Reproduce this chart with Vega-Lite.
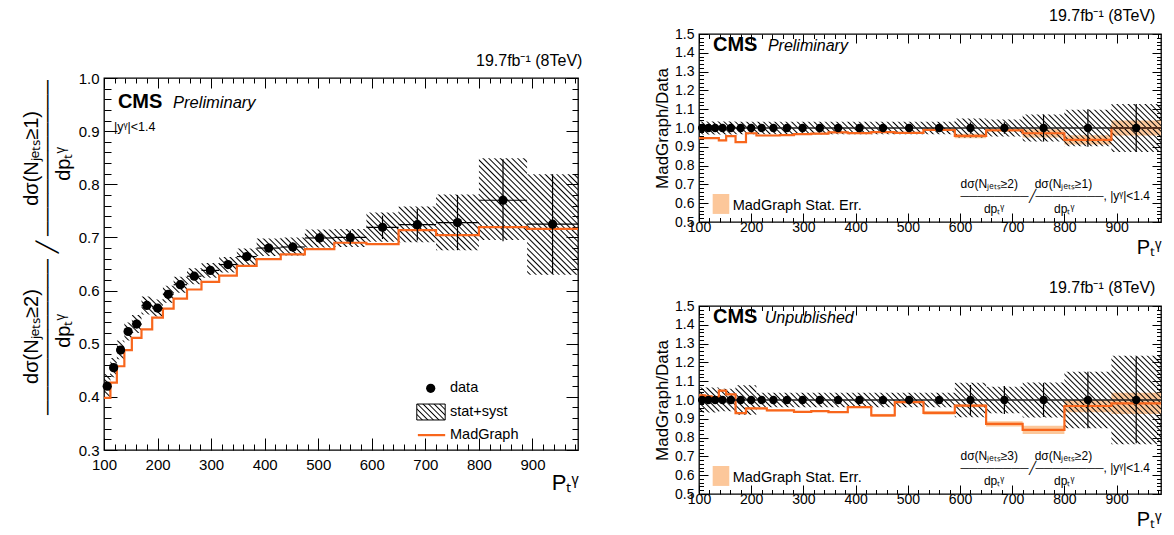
{
"$schema": "https://vega.github.io/schema/vega-lite/v6.json",
"padding": {"left": 20, "top": 7, "right": 2, "bottom": 0},
"background": "white",
"config": {
  "view": {"stroke": "black", "strokeWidth": 1.3},
  "font": "Liberation Sans",
  "text": {"font": "Liberation Sans", "color": "black"},
  "axis": {"domain": false, "grid": false, "ticks": true, "tickColor": "black", "tickWidth": 1, "labelColor": "black", "labelFont": "Liberation Sans", "labelOverlap": false, "labelFlush": false, "titleColor": "black", "titleFont": "Liberation Sans", "titleFontWeight": "normal", "zindex": 1},
  "title": {"font": "Liberation Sans", "fontWeight": "normal", "color": "black", "subtitleColor": "black", "subtitleFont": "Liberation Sans"},
  "area": {"fill": {"gradient": "linear", "x1": 0, "y1": 1, "x2": 1.196, "y2": 0.376, "stops": [
{"offset":0,"color":"#000"},{"offset":0.002,"color":"#0000"},{"offset":0.006,"color":"#0000"},
{"offset":0.008,"color":"#000"},{"offset":0.01,"color":"#0000"},{"offset":0.014,"color":"#0000"},
{"offset":0.016,"color":"#000"},{"offset":0.018,"color":"#0000"},{"offset":0.022,"color":"#0000"},
{"offset":0.024,"color":"#000"},{"offset":0.026,"color":"#0000"},{"offset":0.03,"color":"#0000"},
{"offset":0.032,"color":"#000"},{"offset":0.034,"color":"#0000"},{"offset":0.038,"color":"#0000"},
{"offset":0.04,"color":"#000"},{"offset":0.042,"color":"#0000"},{"offset":0.046,"color":"#0000"},
{"offset":0.048,"color":"#000"},{"offset":0.05,"color":"#0000"},{"offset":0.054,"color":"#0000"},
{"offset":0.056,"color":"#000"},{"offset":0.058,"color":"#0000"},{"offset":0.062,"color":"#0000"},
{"offset":0.064,"color":"#000"},{"offset":0.066,"color":"#0000"},{"offset":0.07,"color":"#0000"},
{"offset":0.072,"color":"#000"},{"offset":0.074,"color":"#0000"},{"offset":0.078,"color":"#0000"},
{"offset":0.08,"color":"#000"},{"offset":0.082,"color":"#0000"},{"offset":0.086,"color":"#0000"},
{"offset":0.088,"color":"#000"},{"offset":0.09,"color":"#0000"},{"offset":0.094,"color":"#0000"},
{"offset":0.096,"color":"#000"},{"offset":0.098,"color":"#0000"},{"offset":0.102,"color":"#0000"},
{"offset":0.104,"color":"#000"},{"offset":0.106,"color":"#0000"},{"offset":0.11,"color":"#0000"},
{"offset":0.112,"color":"#000"},{"offset":0.114,"color":"#0000"},{"offset":0.118,"color":"#0000"},
{"offset":0.12,"color":"#000"},{"offset":0.122,"color":"#0000"},{"offset":0.126,"color":"#0000"},
{"offset":0.128,"color":"#000"},{"offset":0.13,"color":"#0000"},{"offset":0.134,"color":"#0000"},
{"offset":0.136,"color":"#000"},{"offset":0.138,"color":"#0000"},{"offset":0.142,"color":"#0000"},
{"offset":0.144,"color":"#000"},{"offset":0.146,"color":"#0000"},{"offset":0.15,"color":"#0000"},
{"offset":0.152,"color":"#000"},{"offset":0.154,"color":"#0000"},{"offset":0.158,"color":"#0000"},
{"offset":0.16,"color":"#000"},{"offset":0.162,"color":"#0000"},{"offset":0.166,"color":"#0000"},
{"offset":0.168,"color":"#000"},{"offset":0.17,"color":"#0000"},{"offset":0.174,"color":"#0000"},
{"offset":0.176,"color":"#000"},{"offset":0.178,"color":"#0000"},{"offset":0.182,"color":"#0000"},
{"offset":0.184,"color":"#000"},{"offset":0.186,"color":"#0000"},{"offset":0.19,"color":"#0000"},
{"offset":0.192,"color":"#000"},{"offset":0.194,"color":"#0000"},{"offset":0.198,"color":"#0000"},
{"offset":0.2,"color":"#000"},{"offset":0.202,"color":"#0000"},{"offset":0.206,"color":"#0000"},
{"offset":0.208,"color":"#000"},{"offset":0.21,"color":"#0000"},{"offset":0.214,"color":"#0000"},
{"offset":0.216,"color":"#000"},{"offset":0.218,"color":"#0000"},{"offset":0.222,"color":"#0000"},
{"offset":0.224,"color":"#000"},{"offset":0.226,"color":"#0000"},{"offset":0.23,"color":"#0000"},
{"offset":0.232,"color":"#000"},{"offset":0.234,"color":"#0000"},{"offset":0.238,"color":"#0000"},
{"offset":0.24,"color":"#000"},{"offset":0.242,"color":"#0000"},{"offset":0.246,"color":"#0000"},
{"offset":0.248,"color":"#000"},{"offset":0.25,"color":"#0000"},{"offset":0.254,"color":"#0000"},
{"offset":0.256,"color":"#000"},{"offset":0.258,"color":"#0000"},{"offset":0.262,"color":"#0000"},
{"offset":0.264,"color":"#000"},{"offset":0.266,"color":"#0000"},{"offset":0.27,"color":"#0000"},
{"offset":0.272,"color":"#000"},{"offset":0.274,"color":"#0000"},{"offset":0.278,"color":"#0000"},
{"offset":0.28,"color":"#000"},{"offset":0.282,"color":"#0000"},{"offset":0.286,"color":"#0000"},
{"offset":0.288,"color":"#000"},{"offset":0.29,"color":"#0000"},{"offset":0.294,"color":"#0000"},
{"offset":0.296,"color":"#000"},{"offset":0.298,"color":"#0000"},{"offset":0.302,"color":"#0000"},
{"offset":0.304,"color":"#000"},{"offset":0.306,"color":"#0000"},{"offset":0.31,"color":"#0000"},
{"offset":0.312,"color":"#000"},{"offset":0.314,"color":"#0000"},{"offset":0.318,"color":"#0000"},
{"offset":0.32,"color":"#000"},{"offset":0.322,"color":"#0000"},{"offset":0.326,"color":"#0000"},
{"offset":0.328,"color":"#000"},{"offset":0.33,"color":"#0000"},{"offset":0.334,"color":"#0000"},
{"offset":0.336,"color":"#000"},{"offset":0.338,"color":"#0000"},{"offset":0.342,"color":"#0000"},
{"offset":0.344,"color":"#000"},{"offset":0.346,"color":"#0000"},{"offset":0.35,"color":"#0000"},
{"offset":0.352,"color":"#000"},{"offset":0.354,"color":"#0000"},{"offset":0.358,"color":"#0000"},
{"offset":0.36,"color":"#000"},{"offset":0.362,"color":"#0000"},{"offset":0.366,"color":"#0000"},
{"offset":0.368,"color":"#000"},{"offset":0.37,"color":"#0000"},{"offset":0.374,"color":"#0000"},
{"offset":0.376,"color":"#000"},{"offset":0.378,"color":"#0000"},{"offset":0.382,"color":"#0000"},
{"offset":0.384,"color":"#000"},{"offset":0.386,"color":"#0000"},{"offset":0.39,"color":"#0000"},
{"offset":0.392,"color":"#000"},{"offset":0.394,"color":"#0000"},{"offset":0.398,"color":"#0000"},
{"offset":0.4,"color":"#000"},{"offset":0.402,"color":"#0000"},{"offset":0.406,"color":"#0000"},
{"offset":0.408,"color":"#000"},{"offset":0.41,"color":"#0000"},{"offset":0.414,"color":"#0000"},
{"offset":0.416,"color":"#000"},{"offset":0.418,"color":"#0000"},{"offset":0.422,"color":"#0000"},
{"offset":0.424,"color":"#000"},{"offset":0.426,"color":"#0000"},{"offset":0.43,"color":"#0000"},
{"offset":0.432,"color":"#000"},{"offset":0.434,"color":"#0000"},{"offset":0.438,"color":"#0000"},
{"offset":0.44,"color":"#000"},{"offset":0.442,"color":"#0000"},{"offset":0.446,"color":"#0000"},
{"offset":0.448,"color":"#000"},{"offset":0.45,"color":"#0000"},{"offset":0.454,"color":"#0000"},
{"offset":0.456,"color":"#000"},{"offset":0.458,"color":"#0000"},{"offset":0.462,"color":"#0000"},
{"offset":0.464,"color":"#000"},{"offset":0.466,"color":"#0000"},{"offset":0.47,"color":"#0000"},
{"offset":0.472,"color":"#000"},{"offset":0.474,"color":"#0000"},{"offset":0.478,"color":"#0000"},
{"offset":0.48,"color":"#000"},{"offset":0.482,"color":"#0000"},{"offset":0.486,"color":"#0000"},
{"offset":0.488,"color":"#000"},{"offset":0.49,"color":"#0000"},{"offset":0.494,"color":"#0000"},
{"offset":0.496,"color":"#000"},{"offset":0.498,"color":"#0000"},{"offset":0.502,"color":"#0000"},
{"offset":0.504,"color":"#000"},{"offset":0.506,"color":"#0000"},{"offset":0.51,"color":"#0000"},
{"offset":0.512,"color":"#000"},{"offset":0.514,"color":"#0000"},{"offset":0.518,"color":"#0000"},
{"offset":0.52,"color":"#000"},{"offset":0.522,"color":"#0000"},{"offset":0.526,"color":"#0000"},
{"offset":0.528,"color":"#000"},{"offset":0.53,"color":"#0000"},{"offset":0.534,"color":"#0000"},
{"offset":0.536,"color":"#000"},{"offset":0.538,"color":"#0000"},{"offset":0.542,"color":"#0000"},
{"offset":0.544,"color":"#000"},{"offset":0.546,"color":"#0000"},{"offset":0.55,"color":"#0000"},
{"offset":0.552,"color":"#000"},{"offset":0.554,"color":"#0000"},{"offset":0.558,"color":"#0000"},
{"offset":0.56,"color":"#000"},{"offset":0.562,"color":"#0000"},{"offset":0.566,"color":"#0000"},
{"offset":0.568,"color":"#000"},{"offset":0.57,"color":"#0000"},{"offset":0.574,"color":"#0000"},
{"offset":0.576,"color":"#000"},{"offset":0.578,"color":"#0000"},{"offset":0.582,"color":"#0000"},
{"offset":0.584,"color":"#000"},{"offset":0.586,"color":"#0000"},{"offset":0.59,"color":"#0000"},
{"offset":0.592,"color":"#000"},{"offset":0.594,"color":"#0000"},{"offset":0.598,"color":"#0000"},
{"offset":0.6,"color":"#000"},{"offset":0.602,"color":"#0000"},{"offset":0.606,"color":"#0000"},
{"offset":0.608,"color":"#000"},{"offset":0.61,"color":"#0000"},{"offset":0.614,"color":"#0000"},
{"offset":0.616,"color":"#000"},{"offset":0.618,"color":"#0000"},{"offset":0.622,"color":"#0000"},
{"offset":0.624,"color":"#000"},{"offset":0.626,"color":"#0000"},{"offset":0.63,"color":"#0000"},
{"offset":0.632,"color":"#000"},{"offset":0.634,"color":"#0000"},{"offset":0.638,"color":"#0000"},
{"offset":0.64,"color":"#000"},{"offset":0.642,"color":"#0000"},{"offset":0.646,"color":"#0000"},
{"offset":0.648,"color":"#000"},{"offset":0.65,"color":"#0000"},{"offset":0.654,"color":"#0000"},
{"offset":0.656,"color":"#000"},{"offset":0.658,"color":"#0000"},{"offset":0.662,"color":"#0000"},
{"offset":0.664,"color":"#000"},{"offset":0.666,"color":"#0000"},{"offset":0.67,"color":"#0000"},
{"offset":0.672,"color":"#000"},{"offset":0.674,"color":"#0000"},{"offset":0.678,"color":"#0000"},
{"offset":0.68,"color":"#000"},{"offset":0.682,"color":"#0000"},{"offset":0.686,"color":"#0000"},
{"offset":0.688,"color":"#000"},{"offset":0.69,"color":"#0000"},{"offset":0.694,"color":"#0000"},
{"offset":0.696,"color":"#000"},{"offset":0.698,"color":"#0000"},{"offset":0.702,"color":"#0000"},
{"offset":0.704,"color":"#000"},{"offset":0.706,"color":"#0000"},{"offset":0.71,"color":"#0000"},
{"offset":0.712,"color":"#000"},{"offset":0.714,"color":"#0000"},{"offset":0.718,"color":"#0000"},
{"offset":0.72,"color":"#000"},{"offset":0.722,"color":"#0000"},{"offset":0.726,"color":"#0000"},
{"offset":0.728,"color":"#000"},{"offset":0.73,"color":"#0000"},{"offset":0.734,"color":"#0000"},
{"offset":0.736,"color":"#000"},{"offset":0.738,"color":"#0000"},{"offset":0.742,"color":"#0000"},
{"offset":0.744,"color":"#000"},{"offset":0.746,"color":"#0000"},{"offset":0.75,"color":"#0000"},
{"offset":0.752,"color":"#000"},{"offset":0.754,"color":"#0000"},{"offset":0.758,"color":"#0000"},
{"offset":0.76,"color":"#000"},{"offset":0.762,"color":"#0000"},{"offset":0.766,"color":"#0000"},
{"offset":0.768,"color":"#000"},{"offset":0.77,"color":"#0000"},{"offset":0.774,"color":"#0000"},
{"offset":0.776,"color":"#000"},{"offset":0.778,"color":"#0000"},{"offset":0.782,"color":"#0000"},
{"offset":0.784,"color":"#000"},{"offset":0.786,"color":"#0000"},{"offset":0.79,"color":"#0000"},
{"offset":0.792,"color":"#000"},{"offset":0.794,"color":"#0000"},{"offset":0.798,"color":"#0000"},
{"offset":0.8,"color":"#000"},{"offset":0.802,"color":"#0000"},{"offset":0.806,"color":"#0000"},
{"offset":0.808,"color":"#000"},{"offset":0.81,"color":"#0000"},{"offset":0.814,"color":"#0000"},
{"offset":0.816,"color":"#000"},{"offset":0.818,"color":"#0000"},{"offset":0.822,"color":"#0000"},
{"offset":0.824,"color":"#000"},{"offset":0.826,"color":"#0000"},{"offset":0.83,"color":"#0000"},
{"offset":0.832,"color":"#000"},{"offset":0.834,"color":"#0000"},{"offset":0.838,"color":"#0000"},
{"offset":0.84,"color":"#000"},{"offset":0.842,"color":"#0000"},{"offset":0.846,"color":"#0000"},
{"offset":0.848,"color":"#000"},{"offset":0.85,"color":"#0000"},{"offset":0.854,"color":"#0000"},
{"offset":0.856,"color":"#000"},{"offset":0.858,"color":"#0000"},{"offset":0.862,"color":"#0000"},
{"offset":0.864,"color":"#000"},{"offset":0.866,"color":"#0000"},{"offset":0.87,"color":"#0000"},
{"offset":0.872,"color":"#000"},{"offset":0.874,"color":"#0000"},{"offset":0.878,"color":"#0000"},
{"offset":0.88,"color":"#000"},{"offset":0.882,"color":"#0000"},{"offset":0.886,"color":"#0000"},
{"offset":0.888,"color":"#000"},{"offset":0.89,"color":"#0000"},{"offset":0.894,"color":"#0000"},
{"offset":0.896,"color":"#000"},{"offset":0.898,"color":"#0000"},{"offset":0.902,"color":"#0000"},
{"offset":0.904,"color":"#000"},{"offset":0.906,"color":"#0000"},{"offset":0.91,"color":"#0000"},
{"offset":0.912,"color":"#000"},{"offset":0.914,"color":"#0000"},{"offset":0.918,"color":"#0000"},
{"offset":0.92,"color":"#000"},{"offset":0.922,"color":"#0000"},{"offset":0.926,"color":"#0000"},
{"offset":0.928,"color":"#000"},{"offset":0.93,"color":"#0000"},{"offset":0.934,"color":"#0000"},
{"offset":0.936,"color":"#000"},{"offset":0.938,"color":"#0000"},{"offset":0.942,"color":"#0000"},
{"offset":0.944,"color":"#000"},{"offset":0.946,"color":"#0000"},{"offset":0.95,"color":"#0000"},
{"offset":0.952,"color":"#000"},{"offset":0.954,"color":"#0000"},{"offset":0.958,"color":"#0000"},
{"offset":0.96,"color":"#000"},{"offset":0.962,"color":"#0000"},{"offset":0.966,"color":"#0000"},
{"offset":0.968,"color":"#000"},{"offset":0.97,"color":"#0000"},{"offset":0.974,"color":"#0000"},
{"offset":0.976,"color":"#000"},{"offset":0.978,"color":"#0000"},{"offset":0.982,"color":"#0000"},
{"offset":0.984,"color":"#000"},{"offset":0.986,"color":"#0000"},{"offset":0.99,"color":"#0000"},
{"offset":0.992,"color":"#000"},{"offset":0.994,"color":"#0000"},{"offset":0.998,"color":"#0000"},
{"offset":1,"color":"#000"}
  ]}}
},
"datasets": {
  "L": [
    {"lo":100,"hi":112,"c":106,"v":0.42,"el":0.414,"eh":0.426},
    {"lo":112,"hi":124,"c":118,"v":0.455,"el":0.449,"eh":0.461},
    {"lo":124,"hi":138,"c":131,"v":0.488,"el":0.482,"eh":0.494},
    {"lo":138,"hi":152,"c":145,"v":0.523,"el":0.517,"eh":0.529},
    {"lo":152,"hi":170,"c":161,"v":0.537,"el":0.531,"eh":0.543},
    {"lo":170,"hi":190,"c":180,"v":0.572,"el":0.566,"eh":0.578},
    {"lo":190,"hi":210,"c":200,"v":0.567,"el":0.561,"eh":0.573},
    {"lo":210,"hi":230,"c":220,"v":0.593,"el":0.587,"eh":0.599},
    {"lo":230,"hi":255,"c":242.5,"v":0.611,"el":0.605,"eh":0.617},
    {"lo":255,"hi":282,"c":268.5,"v":0.627,"el":0.621,"eh":0.633},
    {"lo":282,"hi":315,"c":298.5,"v":0.638,"el":0.632,"eh":0.644},
    {"lo":315,"hi":348,"c":331.5,"v":0.649,"el":0.642,"eh":0.656},
    {"lo":348,"hi":385,"c":366.5,"v":0.664,"el":0.657,"eh":0.671},
    {"lo":385,"hi":430,"c":407.5,"v":0.68,"el":0.672,"eh":0.688},
    {"lo":430,"hi":475,"c":452.5,"v":0.682,"el":0.673,"eh":0.691},
    {"lo":475,"hi":530,"c":502.5,"v":0.699,"el":0.689,"eh":0.709},
    {"lo":530,"hi":590,"c":560,"v":0.7,"el":0.687,"eh":0.713},
    {"lo":590,"hi":650,"c":620,"v":0.719,"el":0.697,"eh":0.741},
    {"lo":650,"hi":720,"c":685,"v":0.724,"el":0.694,"eh":0.754},
    {"lo":720,"hi":800,"c":760,"v":0.728,"el":0.676,"eh":0.78},
    {"lo":800,"hi":890,"c":845,"v":0.77,"el":0.693,"eh":0.847},
    {"lo":890,"hi":985,"c":937.5,"v":0.725,"el":0.631,"eh":0.819}
  ],
  "Ls": [
    {"x":100,"hl":0.855,"hh":0.855},
    {"x":100,"hl":0.399,"hh":0.443,"mg":0.398},
    {"x":112,"hl":0.437,"hh":0.473,"mg":0.4266},
    {"x":124,"hl":0.471,"hh":0.506,"mg":0.4576},
    {"x":138,"hl":0.506,"hh":0.54,"mg":0.4878},
    {"x":152,"hl":0.52,"hh":0.554,"mg":0.511},
    {"x":170,"hl":0.555,"hh":0.589,"mg":0.527},
    {"x":190,"hl":0.551,"hh":0.583,"mg":0.549},
    {"x":210,"hl":0.577,"hh":0.609,"mg":0.566},
    {"x":230,"hl":0.596,"hh":0.626,"mg":0.585},
    {"x":255,"hl":0.612,"hh":0.642,"mg":0.602},
    {"x":282,"hl":0.624,"hh":0.652,"mg":0.6165},
    {"x":315,"hl":0.634,"hh":0.663,"mg":0.628},
    {"x":348,"hl":0.648,"hh":0.679,"mg":0.6465},
    {"x":385,"hl":0.665,"hh":0.698,"mg":0.659},
    {"x":430,"hl":0.666,"hh":0.7,"mg":0.668},
    {"x":475,"hl":0.681,"hh":0.715,"mg":0.678},
    {"x":530,"hl":0.682,"hh":0.716,"mg":0.69},
    {"x":590,"hl":0.692,"hh":0.747,"mg":0.6874},
    {"x":650,"hl":0.691,"hh":0.758,"mg":0.7137},
    {"x":720,"hl":0.676,"hh":0.781,"mg":0.7043},
    {"x":800,"hl":0.695,"hh":0.849,"mg":0.7194},
    {"x":890,"hl":0.63,"hh":0.819,"mg":0.716},
    {"x":985,"hl":0.63,"hh":0.819,"mg":0.716},
    {"x":985,"hl":0.39,"hh":0.39}
  ],
  "T": [
    {"lo":100,"hi":112,"c":106,"v":1,"el":0.99,"eh":1.01,"ml":0.942,"mh":0.95},
    {"lo":112,"hi":124,"c":118,"v":1,"el":0.99,"eh":1.01,"ml":0.942,"mh":0.95},
    {"lo":124,"hi":138,"c":131,"v":1,"el":0.99,"eh":1.01,"ml":0.942,"mh":0.95},
    {"lo":138,"hi":152,"c":145,"v":1,"el":0.99,"eh":1.01,"ml":0.93,"mh":0.938},
    {"lo":152,"hi":170,"c":161,"v":1,"el":0.99,"eh":1.01,"ml":0.953,"mh":0.961},
    {"lo":170,"hi":190,"c":180,"v":1,"el":0.99,"eh":1.01,"ml":0.921,"mh":0.929},
    {"lo":190,"hi":210,"c":200,"v":1,"el":0.99,"eh":1.01,"ml":0.968,"mh":0.976},
    {"lo":210,"hi":230,"c":220,"v":1,"el":0.99,"eh":1.01,"ml":0.956,"mh":0.964},
    {"lo":230,"hi":255,"c":242.5,"v":1,"el":0.99,"eh":1.01,"ml":0.956,"mh":0.964},
    {"lo":255,"hi":282,"c":268.5,"v":1,"el":0.99,"eh":1.01,"ml":0.958,"mh":0.966},
    {"lo":282,"hi":315,"c":298.5,"v":1,"el":0.99,"eh":1.01,"ml":0.963,"mh":0.971},
    {"lo":315,"hi":348,"c":331.5,"v":1,"el":0.99,"eh":1.01,"ml":0.966,"mh":0.974},
    {"lo":348,"hi":385,"c":366.5,"v":1,"el":0.99,"eh":1.01,"ml":0.973,"mh":0.981},
    {"lo":385,"hi":430,"c":407.5,"v":1,"el":0.99,"eh":1.01,"ml":0.969,"mh":0.977},
    {"lo":430,"hi":475,"c":452.5,"v":1,"el":0.99,"eh":1.01,"ml":0.974,"mh":0.982},
    {"lo":475,"hi":530,"c":502.5,"v":1,"el":0.988,"eh":1.012,"ml":0.97,"mh":0.978},
    {"lo":530,"hi":590,"c":560,"v":1,"el":0.98,"eh":1.02,"ml":0.984,"mh":0.996},
    {"lo":590,"hi":650,"c":620,"v":1,"el":0.97,"eh":1.03,"ml":0.946,"mh":0.97},
    {"lo":650,"hi":720,"c":685,"v":1,"el":0.97,"eh":1.03,"ml":0.98,"mh":0.996},
    {"lo":720,"hi":800,"c":760,"v":1,"el":0.928,"eh":1.072,"ml":0.95,"mh":0.994},
    {"lo":800,"hi":890,"c":845,"v":1,"el":0.9,"eh":1.1,"ml":0.912,"mh":0.962},
    {"lo":890,"hi":985,"c":937.5,"v":1,"el":0.872,"eh":1.128,"ml":0.96,"mh":1.04}
  ],
  "Ts": [
    {"x":100,"hl":1.6405,"hh":1.6405},
    {"x":100,"hl":0.965,"hh":1.035,"mg":0.946},
    {"x":112,"hl":0.965,"hh":1.035,"mg":0.946},
    {"x":124,"hl":0.965,"hh":1.035,"mg":0.946},
    {"x":138,"hl":0.965,"hh":1.035,"mg":0.934},
    {"x":152,"hl":0.965,"hh":1.035,"mg":0.957},
    {"x":170,"hl":0.967,"hh":1.033,"mg":0.925},
    {"x":190,"hl":0.967,"hh":1.033,"mg":0.972},
    {"x":210,"hl":0.967,"hh":1.033,"mg":0.96},
    {"x":230,"hl":0.967,"hh":1.033,"mg":0.96},
    {"x":255,"hl":0.967,"hh":1.033,"mg":0.962},
    {"x":282,"hl":0.967,"hh":1.033,"mg":0.967},
    {"x":315,"hl":0.967,"hh":1.033,"mg":0.97},
    {"x":348,"hl":0.967,"hh":1.033,"mg":0.977},
    {"x":385,"hl":0.967,"hh":1.033,"mg":0.973},
    {"x":430,"hl":0.967,"hh":1.033,"mg":0.978},
    {"x":475,"hl":0.967,"hh":1.033,"mg":0.974},
    {"x":530,"hl":0.967,"hh":1.033,"mg":0.99},
    {"x":590,"hl":0.95,"hh":1.05,"mg":0.958},
    {"x":650,"hl":0.955,"hh":1.045,"mg":0.988},
    {"x":720,"hl":0.928,"hh":1.072,"mg":0.972},
    {"x":800,"hl":0.903,"hh":1.097,"mg":0.937},
    {"x":890,"hl":0.872,"hh":1.128,"mg":1.0},
    {"x":985,"hl":0.872,"hh":1.128,"mg":1.0},
    {"x":985,"hl":0.3595,"hh":0.3595}
  ],
  "B": [
    {"lo":100,"hi":112,"c":106,"v":1,"el":0.988,"eh":1.012,"ml":1.02,"mh":1.03},
    {"lo":112,"hi":124,"c":118,"v":1,"el":0.988,"eh":1.012,"ml":1.015,"mh":1.025},
    {"lo":124,"hi":138,"c":131,"v":1,"el":0.988,"eh":1.012,"ml":1.01,"mh":1.02},
    {"lo":138,"hi":152,"c":145,"v":1,"el":0.988,"eh":1.012,"ml":1.045,"mh":1.055},
    {"lo":152,"hi":170,"c":161,"v":1,"el":0.988,"eh":1.012,"ml":1.025,"mh":1.035},
    {"lo":170,"hi":190,"c":180,"v":1,"el":0.985,"eh":1.015,"ml":0.925,"mh":0.935},
    {"lo":190,"hi":210,"c":200,"v":1,"el":0.985,"eh":1.015,"ml":0.95,"mh":0.96},
    {"lo":210,"hi":230,"c":220,"v":1,"el":0.988,"eh":1.012,"ml":0.95,"mh":0.96},
    {"lo":230,"hi":255,"c":242.5,"v":1,"el":0.988,"eh":1.012,"ml":0.94,"mh":0.95},
    {"lo":255,"hi":282,"c":268.5,"v":1,"el":0.988,"eh":1.012,"ml":0.94,"mh":0.95},
    {"lo":282,"hi":315,"c":298.5,"v":1,"el":0.988,"eh":1.012,"ml":0.932,"mh":0.942},
    {"lo":315,"hi":348,"c":331.5,"v":1,"el":0.988,"eh":1.012,"ml":0.936,"mh":0.946},
    {"lo":348,"hi":385,"c":366.5,"v":1,"el":0.988,"eh":1.012,"ml":0.931,"mh":0.941},
    {"lo":385,"hi":430,"c":407.5,"v":1,"el":0.988,"eh":1.012,"ml":0.957,"mh":0.967},
    {"lo":430,"hi":475,"c":452.5,"v":1,"el":0.988,"eh":1.012,"ml":0.91,"mh":0.926},
    {"lo":475,"hi":530,"c":502.5,"v":1,"el":0.985,"eh":1.015,"ml":0.983,"mh":0.995},
    {"lo":530,"hi":590,"c":560,"v":1,"el":0.98,"eh":1.02,"ml":0.922,"mh":0.942},
    {"lo":590,"hi":650,"c":620,"v":1,"el":0.92,"eh":1.08,"ml":0.962,"mh":0.978},
    {"lo":650,"hi":720,"c":685,"v":1,"el":0.925,"eh":1.075,"ml":0.859,"mh":0.887},
    {"lo":720,"hi":800,"c":760,"v":1,"el":0.91,"eh":1.09,"ml":0.819,"mh":0.863},
    {"lo":800,"hi":890,"c":845,"v":1,"el":0.85,"eh":1.15,"ml":0.935,"mh":1.001},
    {"lo":890,"hi":985,"c":937.5,"v":1,"el":0.77,"eh":1.23,"ml":0.925,"mh":1.039}
  ],
  "Bs": [
    {"x":100,"hl":1.6405,"hh":1.6405},
    {"x":100,"hl":0.933,"hh":1.067,"mg":1.025},
    {"x":112,"hl":0.933,"hh":1.067,"mg":1.02},
    {"x":124,"hl":0.933,"hh":1.067,"mg":1.015},
    {"x":138,"hl":0.94,"hh":1.06,"mg":1.05},
    {"x":152,"hl":0.94,"hh":1.06,"mg":1.03},
    {"x":170,"hl":0.922,"hh":1.078,"mg":0.93},
    {"x":190,"hl":0.922,"hh":1.078,"mg":0.955},
    {"x":210,"hl":0.962,"hh":1.038,"mg":0.955},
    {"x":230,"hl":0.962,"hh":1.038,"mg":0.945},
    {"x":255,"hl":0.962,"hh":1.038,"mg":0.945},
    {"x":282,"hl":0.962,"hh":1.038,"mg":0.937},
    {"x":315,"hl":0.962,"hh":1.038,"mg":0.941},
    {"x":348,"hl":0.962,"hh":1.038,"mg":0.936},
    {"x":385,"hl":0.962,"hh":1.038,"mg":0.962},
    {"x":430,"hl":0.962,"hh":1.038,"mg":0.918},
    {"x":475,"hl":0.962,"hh":1.038,"mg":0.989},
    {"x":530,"hl":0.962,"hh":1.038,"mg":0.932},
    {"x":590,"hl":0.908,"hh":1.092,"mg":0.97},
    {"x":650,"hl":0.93,"hh":1.07,"mg":0.873},
    {"x":720,"hl":0.907,"hh":1.093,"mg":0.841},
    {"x":800,"hl":0.85,"hh":1.15,"mg":0.968},
    {"x":890,"hl":0.765,"hh":1.235,"mg":0.982},
    {"x":985,"hl":0.765,"hh":1.235,"mg":0.982},
    {"x":985,"hl":0.3595,"hh":0.3595}
  ]
},
"columns": 2,
"align": "none",
"spacing": 68,
"concat": [
{
 "bounds": "flush",
 "spacing": 43,
 "vconcat": [
 {
  "width": 474, "height": 1,
  "view": {"stroke": null},
  "data": {"values": [{}]},
  "mark": {"type": "text", "text": ""}
 },
 {
  "width": 474, "height": 372,
  "title": {"text": "19.7fb⁻¹ (8TeV)", "anchor": "end", "fontSize": 16, "offset": 2},
  "resolve": {"axis": {"x": "independent", "y": "independent"}},
  "layer": [
    {"data": {"name": "Ls"}, "mark": {"type": "area", "interpolate": "step-after", "clip": true},
     "encoding": {
       "x": {"field": "x", "type": "quantitative", "scale": {"domain": [100, 985], "nice": false, "zero": false},
             "axis": {"orient": "bottom", "values": [100,200,300,400,500,600,700,800,900], "tickSize": -12, "labelPadding": 19, "labelFontSize": 15, "format": "d", "title": "Pₜᵞ", "titleFontSize": 22, "titleAnchor": "end", "titlePadding": 0}},
       "y": {"field": "hl", "type": "quantitative", "scale": {"domain": [0.3, 1.0], "nice": false, "zero": false},
             "axis": {"orient": "left", "values": [0.3,0.4,0.5,0.6,0.7,0.8,0.9,1.0], "tickSize": -13, "labelPadding": 18, "labelFontSize": 15, "format": ".1f", "title": ["dσ(Nⱼₑₜₛ≥2)\u00a0\u00a0\u00a0\u00a0\u00a0\u00a0\u00a0\u00a0\u00a0\u00a0\u00a0\u00a0\u00a0\u00a0\u00a0dσ(Nⱼₑₜₛ≥1)", "───────────\u00a0╱\u00a0───────────", "dpₜᵞ\u00a0\u00a0\u00a0\u00a0\u00a0\u00a0\u00a0\u00a0\u00a0\u00a0\u00a0\u00a0\u00a0\u00a0\u00a0\u00a0\u00a0\u00a0\u00a0\u00a0\u00a0\u00a0\u00a0\u00a0dpₜᵞ"], "titleFontSize": 20, "titleLineHeight": 16, "titlePadding": 5, "titleY": 169}},
       "y2": {"field": "hh"}}},
    {"data": {"name": "Ls"}, "mark": {"type": "line", "interpolate": "step-after", "color": "#f8661c", "strokeWidth": 2.2},
     "encoding": {
       "x": {"field": "x", "type": "quantitative", "axis": {"orient": "bottom", "values": [120,140,160,180,220,240,260,280,320,340,360,380,420,440,460,480,520,540,560,580,620,640,660,680,720,740,760,780,820,840,860,880,920,940,960,980], "tickSize": -6, "labels": false, "title": null}},
       "y": {"field": "mg", "type": "quantitative", "axis": {"orient": "left", "values": [0.32,0.34,0.36,0.38,0.42,0.44,0.46,0.48,0.52,0.54,0.56,0.58,0.62,0.64,0.66,0.68,0.72,0.74,0.76,0.78,0.82,0.84,0.86,0.88,0.92,0.94,0.96,0.98], "tickSize": -7, "labels": false, "title": null}}}},
    {"data": {"name": "L"}, "mark": {"type": "rule", "color": "black", "strokeWidth": 1.2},
     "encoding": {
       "x": {"field": "c", "type": "quantitative", "axis": {"orient": "top", "values": [100,200,300,400,500,600,700,800,900], "tickSize": -10, "labels": false, "title": null}},
       "y": {"field": "el", "type": "quantitative", "axis": {"orient": "right", "values": [0.3,0.4,0.5,0.6,0.7,0.8,0.9,1.0], "tickSize": -12, "labels": false, "title": null}},
       "y2": {"field": "eh"}}},
    {"data": {"name": "L"}, "mark": {"type": "rule", "color": "black", "strokeWidth": 1.2},
     "encoding": {
       "x": {"field": "lo", "type": "quantitative", "axis": null}, "x2": {"field": "hi"},
       "y": {"field": "v", "type": "quantitative", "axis": null}}},
    {"data": {"name": "L"}, "mark": {"type": "point", "filled": true, "shape": "circle", "size": 85, "color": "black", "opacity": 1},
     "encoding": {
       "x": {"field": "c", "type": "quantitative", "axis": {"orient": "top", "values": [120,140,160,180,220,240,260,280,320,340,360,380,420,440,460,480,520,540,560,580,620,640,660,680,720,740,760,780,820,840,860,880,920,940,960,980], "tickSize": -5, "labels": false, "title": null}},
       "y": {"field": "v", "type": "quantitative", "axis": {"orient": "right", "values": [0.32,0.34,0.36,0.38,0.42,0.44,0.46,0.48,0.52,0.54,0.56,0.58,0.62,0.64,0.66,0.68,0.72,0.74,0.76,0.78,0.82,0.84,0.86,0.88,0.92,0.94,0.96,0.98], "tickSize": -6, "labels": false, "title": null}}}},
    {"data": {"values": [{}]}, "mark": {"type": "text", "text": "CMS", "fontWeight": "bold", "fontSize": 20, "align": "left", "baseline": "alphabetic"},
     "encoding": {"x": {"datum": 126, "axis": null}, "y": {"datum": 0.9435, "axis": null}}},
    {"data": {"values": [{}]}, "mark": {"type": "text", "text": "Preliminary", "fontStyle": "italic", "fontSize": 16.5, "align": "left", "baseline": "alphabetic"},
     "encoding": {"x": {"datum": 229, "axis": null}, "y": {"datum": 0.9435, "axis": null}}},
    {"data": {"values": [{}]}, "mark": {"type": "text", "text": "|yᵞ|<1.4", "fontSize": 12.5, "align": "left", "baseline": "alphabetic"},
     "encoding": {"x": {"datum": 118.7, "axis": null}, "y": {"datum": 0.9, "axis": null}}},
    {"data": {"values": [{}]}, "mark": {"type": "point", "filled": true, "shape": "circle", "size": 85, "color": "black", "opacity": 1},
     "encoding": {"x": {"datum": 710, "axis": null}, "y": {"datum": 0.416, "axis": null}}},
    {"data": {"values": [{}]}, "mark": {"type": "text", "text": "data", "fontSize": 14.5, "align": "left", "baseline": "middle"},
     "encoding": {"x": {"datum": 746, "axis": null}, "y": {"datum": 0.416, "axis": null}}},
    {"data": {"values": [{}]}, "mark": {"type": "rect", "stroke": "black", "strokeWidth": 1, "fill": {"gradient": "linear", "x1": 0, "y1": 1, "x2": 1.188, "y2": 0.335, "stops": [{"offset":0,"color":"#000"},{"offset":0.03,"color":"#0000"},{"offset":0.095,"color":"#0000"},{"offset":0.125,"color":"#000"},{"offset":0.155,"color":"#0000"},{"offset":0.22,"color":"#0000"},{"offset":0.25,"color":"#000"},{"offset":0.28,"color":"#0000"},{"offset":0.345,"color":"#0000"},{"offset":0.375,"color":"#000"},{"offset":0.405,"color":"#0000"},{"offset":0.47,"color":"#0000"},{"offset":0.5,"color":"#000"},{"offset":0.53,"color":"#0000"},{"offset":0.595,"color":"#0000"},{"offset":0.625,"color":"#000"},{"offset":0.655,"color":"#0000"},{"offset":0.72,"color":"#0000"},{"offset":0.75,"color":"#000"},{"offset":0.78,"color":"#0000"},{"offset":0.845,"color":"#0000"},{"offset":0.875,"color":"#000"},{"offset":0.905,"color":"#0000"},{"offset":0.97,"color":"#0000"},{"offset":1,"color":"#000"}]}},
     "encoding": {"x": {"datum": 684, "axis": null}, "x2": {"datum": 737}, "y": {"datum": 0.3565, "axis": null}, "y2": {"datum": 0.3865}}},
    {"data": {"values": [{}]}, "mark": {"type": "text", "text": "stat+syst", "fontSize": 14.5, "align": "left", "baseline": "middle"},
     "encoding": {"x": {"datum": 746, "axis": null}, "y": {"datum": 0.3715, "axis": null}}},
    {"data": {"values": [{}]}, "mark": {"type": "rule", "color": "#f8661c", "strokeWidth": 2.2},
     "encoding": {"x": {"datum": 686, "axis": null}, "x2": {"datum": 737}, "y": {"datum": 0.328, "axis": null}}},
    {"data": {"values": [{}]}, "mark": {"type": "text", "text": "MadGraph", "fontSize": 14.5, "align": "left", "baseline": "middle"},
     "encoding": {"x": {"datum": 746, "axis": null}, "y": {"datum": 0.328, "axis": null}}}
  ]
 }
 ]
},
{
  "vconcat": [
  {
    "width": 462, "height": 188,
    "title": {"text": "19.7fb⁻¹ (8TeV)", "anchor": "end", "fontSize": 16, "offset": 3, "dx": -10},
    "resolve": {"axis": {"x": "independent", "y": "independent"}},
    "layer": [
      {"data": {"name": "T"}, "mark": {"type": "rect", "color": "#fcc79a", "opacity": 1},
       "encoding": {
         "x": {"field": "lo", "type": "quantitative", "scale": {"domain": [100, 985], "nice": false, "zero": false}, "axis": null}, "x2": {"field": "hi"},
         "y": {"field": "ml", "type": "quantitative", "scale": {"domain": [0.5, 1.5], "nice": false, "zero": false}, "axis": null}, "y2": {"field": "mh"}}},
      {"data": {"name": "Ts"}, "mark": {"type": "area", "interpolate": "step-after", "clip": true},
       "encoding": {
         "x": {"field": "x", "type": "quantitative", "axis": {"orient": "bottom", "values": [100,200,300,400,500,600,700,800,900], "tickSize": -9, "labelPadding": 7, "labelFontSize": 14, "format": "d", "title": "Pₜᵞ", "titleFontSize": 20, "titleAnchor": "end", "titlePadding": 3}},
         "y": {"field": "hl", "type": "quantitative", "axis": {"orient": "left", "values": [0.5,0.6,0.7,0.8,0.9,1.0,1.1,1.2,1.3,1.4,1.5], "tickSize": -9, "labelPadding": 14, "labelFontSize": 14, "format": ".1f", "title": "MadGraph/Data", "titleFontSize": 17, "titlePadding": 3}},
         "y2": {"field": "hh"}}},
      {"data": {"name": "Ts"}, "mark": {"type": "line", "interpolate": "step-after", "color": "#f8661c", "strokeWidth": 2.2},
       "encoding": {
         "x": {"field": "x", "type": "quantitative", "axis": {"orient": "bottom", "values": [120,140,160,180,220,240,260,280,320,340,360,380,420,440,460,480,520,540,560,580,620,640,660,680,720,740,760,780,820,840,860,880,920,940,960,980], "tickSize": -4.5, "labels": false, "title": null}},
         "y": {"field": "mg", "type": "quantitative", "axis": {"orient": "left", "values": [0.52,0.54,0.56,0.58,0.62,0.64,0.66,0.68,0.72,0.74,0.76,0.78,0.82,0.84,0.86,0.88,0.92,0.94,0.96,0.98,1.02,1.04,1.06,1.08,1.12,1.14,1.16,1.18,1.22,1.24,1.26,1.28,1.32,1.34,1.36,1.38,1.42,1.44,1.46,1.48], "tickSize": -4.5, "labels": false, "title": null}}}},
      {"data": {"values": [{}]}, "mark": {"type": "rule", "color": "#222", "strokeWidth": 1.5},
       "encoding": {"y": {"datum": 1, "axis": null}}},
      {"data": {"name": "T"}, "mark": {"type": "rule", "color": "black", "strokeWidth": 1.2},
       "encoding": {
         "x": {"field": "c", "type": "quantitative", "axis": {"orient": "top", "values": [100,200,300,400,500,600,700,800,900], "tickSize": -9, "labels": false, "title": null}},
         "y": {"field": "el", "type": "quantitative", "axis": {"orient": "right", "values": [0.5,0.6,0.7,0.8,0.9,1.0,1.1,1.2,1.3,1.4,1.5], "tickSize": -9, "labels": false, "title": null}},
         "y2": {"field": "eh"}}},
      {"data": {"name": "T"}, "mark": {"type": "point", "filled": true, "shape": "circle", "size": 70, "color": "black", "opacity": 1},
       "encoding": {
         "x": {"field": "c", "type": "quantitative", "axis": {"orient": "top", "values": [120,140,160,180,220,240,260,280,320,340,360,380,420,440,460,480,520,540,560,580,620,640,660,680,720,740,760,780,820,840,860,880,920,940,960,980], "tickSize": -4.5, "labels": false, "title": null}},
         "y": {"field": "v", "type": "quantitative", "axis": {"orient": "right", "values": [0.52,0.54,0.56,0.58,0.62,0.64,0.66,0.68,0.72,0.74,0.76,0.78,0.82,0.84,0.86,0.88,0.92,0.94,0.96,0.98,1.02,1.04,1.06,1.08,1.12,1.14,1.16,1.18,1.22,1.24,1.26,1.28,1.32,1.34,1.36,1.38,1.42,1.44,1.46,1.48], "tickSize": -4.5, "labels": false, "title": null}}}},
      {"data": {"values": [{}]}, "mark": {"type": "text", "text": "CMS", "fontWeight": "bold", "fontSize": 20, "align": "left", "baseline": "alphabetic"},
       "encoding": {"x": {"datum": 126.8, "axis": null}, "y": {"datum": 1.41, "axis": null}}},
      {"data": {"values": [{}]}, "mark": {"type": "text", "text": "Preliminary", "fontStyle": "italic", "fontSize": 16, "align": "left", "baseline": "alphabetic"},
       "encoding": {"x": {"datum": 232, "axis": null}, "y": {"datum": 1.41, "axis": null}}},
      {"data": {"values": [{}]}, "mark": {"type": "rect", "color": "#fcc79a", "opacity": 1},
       "encoding": {"x": {"datum": 126.2, "axis": null}, "x2": {"datum": 158}, "y": {"datum": 0.543, "axis": null}, "y2": {"datum": 0.649}}},
      {"data": {"values": [{}]}, "mark": {"type": "text", "text": "MadGraph Stat. Err.", "fontSize": 14.5, "align": "left", "baseline": "middle"},
       "encoding": {"x": {"datum": 164.6, "axis": null}, "y": {"datum": 0.585, "axis": null}}},
      {"data": {"values": [{}]}, "mark": {"type": "text", "text": ["dσ(Nⱼₑₜₛ≥2)\u00a0\u00a0\u00a0\u00a0\u00a0dσ(Nⱼₑₜₛ≥1)", "────────╱────────, |yᵞ|<1.4", "\u200b\u00a0\u00a0\u00a0\u00a0\u00a0\u00a0\u00a0dpₜᵞ\u00a0\u00a0\u00a0\u00a0\u00a0\u00a0\u00a0\u00a0\u00a0\u00a0\u00a0\u00a0\u00a0\u00a0\u00a0dpₜᵞ"], "fontSize": 12, "lineHeight": 12.5, "align": "left", "baseline": "top"},
       "encoding": {"x": {"datum": 601, "axis": null}, "y": {"datum": 0.729, "axis": null}}}
    ]
  },
  {
    "width": 462, "height": 188,
    "title": {"text": "19.7fb⁻¹ (8TeV)", "anchor": "end", "fontSize": 16, "offset": 3, "dx": -10},
    "resolve": {"axis": {"x": "independent", "y": "independent"}},
    "layer": [
      {"data": {"name": "B"}, "mark": {"type": "rect", "color": "#fcc79a", "opacity": 1},
       "encoding": {
         "x": {"field": "lo", "type": "quantitative", "scale": {"domain": [100, 985], "nice": false, "zero": false}, "axis": null}, "x2": {"field": "hi"},
         "y": {"field": "ml", "type": "quantitative", "scale": {"domain": [0.5, 1.5], "nice": false, "zero": false}, "axis": null}, "y2": {"field": "mh"}}},
      {"data": {"name": "Bs"}, "mark": {"type": "area", "interpolate": "step-after", "clip": true},
       "encoding": {
         "x": {"field": "x", "type": "quantitative", "axis": {"orient": "bottom", "values": [100,200,300,400,500,600,700,800,900], "tickSize": -9, "labelPadding": 7, "labelFontSize": 14, "format": "d", "title": "Pₜᵞ", "titleFontSize": 20, "titleAnchor": "end", "titlePadding": 3}},
         "y": {"field": "hl", "type": "quantitative", "axis": {"orient": "left", "values": [0.5,0.6,0.7,0.8,0.9,1.0,1.1,1.2,1.3,1.4,1.5], "tickSize": -9, "labelPadding": 14, "labelFontSize": 14, "format": ".1f", "title": "MadGraph/Data", "titleFontSize": 17, "titlePadding": 3}},
         "y2": {"field": "hh"}}},
      {"data": {"name": "Bs"}, "mark": {"type": "line", "interpolate": "step-after", "color": "#f8661c", "strokeWidth": 2.2},
       "encoding": {
         "x": {"field": "x", "type": "quantitative", "axis": {"orient": "bottom", "values": [120,140,160,180,220,240,260,280,320,340,360,380,420,440,460,480,520,540,560,580,620,640,660,680,720,740,760,780,820,840,860,880,920,940,960,980], "tickSize": -4.5, "labels": false, "title": null}},
         "y": {"field": "mg", "type": "quantitative", "axis": {"orient": "left", "values": [0.52,0.54,0.56,0.58,0.62,0.64,0.66,0.68,0.72,0.74,0.76,0.78,0.82,0.84,0.86,0.88,0.92,0.94,0.96,0.98,1.02,1.04,1.06,1.08,1.12,1.14,1.16,1.18,1.22,1.24,1.26,1.28,1.32,1.34,1.36,1.38,1.42,1.44,1.46,1.48], "tickSize": -4.5, "labels": false, "title": null}}}},
      {"data": {"values": [{}]}, "mark": {"type": "rule", "color": "#222", "strokeWidth": 1.5},
       "encoding": {"y": {"datum": 1, "axis": null}}},
      {"data": {"name": "B"}, "mark": {"type": "rule", "color": "black", "strokeWidth": 1.2},
       "encoding": {
         "x": {"field": "c", "type": "quantitative", "axis": {"orient": "top", "values": [100,200,300,400,500,600,700,800,900], "tickSize": -9, "labels": false, "title": null}},
         "y": {"field": "el", "type": "quantitative", "axis": {"orient": "right", "values": [0.5,0.6,0.7,0.8,0.9,1.0,1.1,1.2,1.3,1.4,1.5], "tickSize": -9, "labels": false, "title": null}},
         "y2": {"field": "eh"}}},
      {"data": {"name": "B"}, "mark": {"type": "point", "filled": true, "shape": "circle", "size": 70, "color": "black", "opacity": 1},
       "encoding": {
         "x": {"field": "c", "type": "quantitative", "axis": {"orient": "top", "values": [120,140,160,180,220,240,260,280,320,340,360,380,420,440,460,480,520,540,560,580,620,640,660,680,720,740,760,780,820,840,860,880,920,940,960,980], "tickSize": -4.5, "labels": false, "title": null}},
         "y": {"field": "v", "type": "quantitative", "axis": {"orient": "right", "values": [0.52,0.54,0.56,0.58,0.62,0.64,0.66,0.68,0.72,0.74,0.76,0.78,0.82,0.84,0.86,0.88,0.92,0.94,0.96,0.98,1.02,1.04,1.06,1.08,1.12,1.14,1.16,1.18,1.22,1.24,1.26,1.28,1.32,1.34,1.36,1.38,1.42,1.44,1.46,1.48], "tickSize": -4.5, "labels": false, "title": null}}}},
      {"data": {"values": [{}]}, "mark": {"type": "text", "text": "CMS", "fontWeight": "bold", "fontSize": 20, "align": "left", "baseline": "alphabetic"},
       "encoding": {"x": {"datum": 126.8, "axis": null}, "y": {"datum": 1.41, "axis": null}}},
      {"data": {"values": [{}]}, "mark": {"type": "text", "text": "Unpublished", "fontStyle": "italic", "fontSize": 16, "align": "left", "baseline": "alphabetic"},
       "encoding": {"x": {"datum": 226, "axis": null}, "y": {"datum": 1.41, "axis": null}}},
      {"data": {"values": [{}]}, "mark": {"type": "rect", "color": "#fcc79a", "opacity": 1},
       "encoding": {"x": {"datum": 126.2, "axis": null}, "x2": {"datum": 158}, "y": {"datum": 0.543, "axis": null}, "y2": {"datum": 0.649}}},
      {"data": {"values": [{}]}, "mark": {"type": "text", "text": "MadGraph Stat. Err.", "fontSize": 14.5, "align": "left", "baseline": "middle"},
       "encoding": {"x": {"datum": 164.6, "axis": null}, "y": {"datum": 0.585, "axis": null}}},
      {"data": {"values": [{}]}, "mark": {"type": "text", "text": ["dσ(Nⱼₑₜₛ≥3)\u00a0\u00a0\u00a0\u00a0\u00a0dσ(Nⱼₑₜₛ≥2)", "────────╱────────, |yᵞ|<1.4", "\u200b\u00a0\u00a0\u00a0\u00a0\u00a0\u00a0\u00a0dpₜᵞ\u00a0\u00a0\u00a0\u00a0\u00a0\u00a0\u00a0\u00a0\u00a0\u00a0\u00a0\u00a0\u00a0\u00a0\u00a0dpₜᵞ"], "fontSize": 12, "lineHeight": 12.5, "align": "left", "baseline": "top"},
       "encoding": {"x": {"datum": 601, "axis": null}, "y": {"datum": 0.729, "axis": null}}}
    ]
  }
  ],
  "spacing": 84,
  "bounds": "flush"
}
]
}
